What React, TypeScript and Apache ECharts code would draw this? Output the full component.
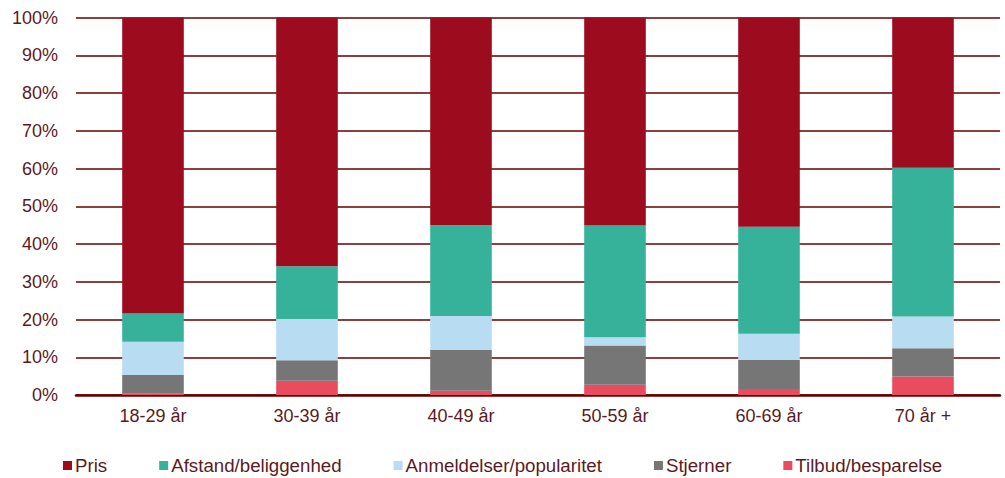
import React, { useEffect, useRef } from "react";
import * as echarts from "echarts";

const categories = ["18-29 år", "30-39 år", "40-49 år", "50-59 år", "60-69 år", "70 år +"];
const tilbud = [0.3, 3.8, 1.1, 2.7, 1.6, 4.9];
const stjerner = [5.0, 5.4, 10.8, 10.4, 7.7, 7.5];
const anmeldelser = [8.8, 10.9, 9.0, 2.2, 6.9, 8.4];
const afstand = [7.5, 14.0, 24.1, 29.6, 28.4, 39.4];
const pris = [78.4, 65.9, 55.0, 55.1, 55.4, 39.8];

const legendOrder = ["Pris", "Afstand/beliggenhed", "Anmeldelser/popularitet", "Stjerner", "Tilbud/besparelse"];

const TEXT = "#5c1a1f";
const GRID = "#650000";
const FONT = "Liberation Sans, Arial, sans-serif";

export default function App() {
  const ref = useRef<HTMLDivElement>(null);
  useEffect(() => {
    if (!ref.current) return;
    const chart = echarts.init(ref.current, undefined, { renderer: "svg" });
    const mk = (name: string, data: number[], color: string) => ({
      name,
      type: "bar",
      stack: "total",
      barWidth: "40%",
      data,
      itemStyle: { color },
      emphasis: { disabled: true },
    });
    chart.setOption({
      animation: false,
      textStyle: { fontFamily: FONT },
      grid: { left: 76, right: 5, top: 17.5, bottom: 83, containLabel: false },
      legend: {
        data: legendOrder,
        left: 63,
        top: 456,
        padding: 0,
        itemWidth: 9,
        itemHeight: 9,
        itemGap: 52,
        icon: "rect",
        textStyle: { fontSize: 18.7, color: TEXT, fontFamily: FONT, padding: [0, 0, 0, -2] },
      },
      xAxis: {
        type: "category",
        data: categories,
        axisLine: { show: true, lineStyle: { color: GRID, width: 2.5 } },
        axisTick: { show: false },
        axisLabel: { fontSize: 18, color: TEXT, fontFamily: FONT, margin: 12 },
      },
      yAxis: {
        type: "value",
        min: 0,
        max: 100,
        interval: 10,
        axisLine: { show: false },
        axisTick: { show: false },
        splitLine: { show: true, lineStyle: { color: GRID, width: 1.5 } },
        axisLabel: { fontSize: 18, color: TEXT, fontFamily: FONT, margin: 18, formatter: "{value}%" },
      },
      series: [
        mk("Tilbud/besparelse", tilbud, "#e84c5e"),
        mk("Stjerner", stjerner, "#767676"),
        mk("Anmeldelser/popularitet", anmeldelser, "#b8ddf3"),
        mk("Afstand/beliggenhed", afstand, "#36b19a"),
        mk("Pris", pris, "#9c0c1e"),
      ],
    });
    return () => chart.dispose();
  }, []);
  return (
    <div
      ref={ref}
      style={{ position: "absolute", left: 0, top: 0, width: 1005, height: 478 }}
    />
  );
}
